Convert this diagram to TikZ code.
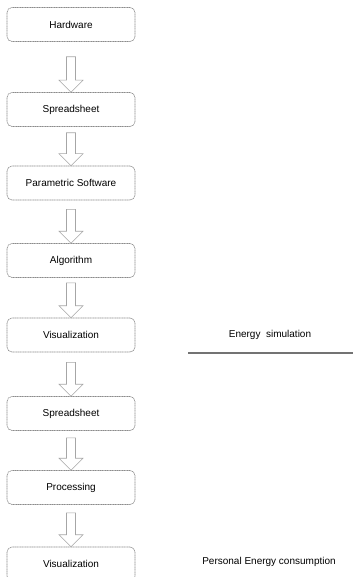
\documentclass[tikz,border=0pt]{standalone}
\usepackage{fontspec}
\setmainfont{Liberation Sans}
\usetikzlibrary{calc}

% hollow block arrow from below #1 (offset #3 pt) down to the top of #2
\newcommand\blockarrow[3]{%
  \draw[arrowline] let \p1=(#1.south), \p2=(#2.north) in
    (\x2-4.5pt,\y1-#3pt) -- (\x2+4.5pt,\y1-#3pt) -- (\x2+4.5pt,\y2+12pt)
    -- (\x2+12pt,\y2+12pt) -- (\x2,\y2) -- (\x2-12pt,\y2+12pt)
    -- (\x2-4.5pt,\y2+12pt) -- cycle;}

\tikzset{
  stagebox/.style={draw=black!45, line width=0.6pt,
    dash pattern=on 1.2pt off 0.5pt, rounded corners=5pt,
    minimum width=128pt, minimum height=34pt, inner sep=0pt,
    font=\fontsize{10}{12}\selectfont, text=black},
  arrowline/.style={draw=black!35, line width=0.6pt, line join=miter},
  sidelabel/.style={font=\fontsize{10}{12}\selectfont, text=black, inner sep=0pt},
  rule/.style={draw=black!55, line width=1.3pt}
}

\begin{document}
\begin{tikzpicture}[x=1pt,y=-1pt]
  \useasboundingbox[fill=white] (0,0) rectangle (356,577);

  \node[stagebox] (hw)   at (71,24.5)  {Hardware};
  \node[stagebox] (ss1)  at (71,109.5) {Spreadsheet};
  \node[stagebox] (ps)   at (71,183)   {Parametric Software};
  \node[stagebox] (alg)  at (71,260.5) {Algorithm};
  \node[stagebox] (vis1) at (71,335)   {Visualization};
  \node[stagebox] (ss2)  at (71,413.5) {Spreadsheet};
  \node[stagebox] (proc) at (71,487.5) {Processing};
  \node[stagebox] (vis2) at (71,564)   {Visualization};

  \blockarrow{hw}{ss1}{15}
  \blockarrow{ss1}{ps}{6}
  \blockarrow{ps}{alg}{9}
  \blockarrow{alg}{vis1}{5}
  \blockarrow{vis1}{ss2}{10}
  \blockarrow{ss2}{proc}{7}
  \blockarrow{proc}{vis2}{8}

  \node[sidelabel] (esim) at (270,335) {Energy\ \ simulation};
  \coordinate (ruleL) at (188,353);
  \coordinate (ruleR) at (353,353);
  \draw[rule] (ruleL) -- (ruleR);

  \node[sidelabel] (pec) at (269,562) {Personal Energy consumption};
\end{tikzpicture}
\end{document}
